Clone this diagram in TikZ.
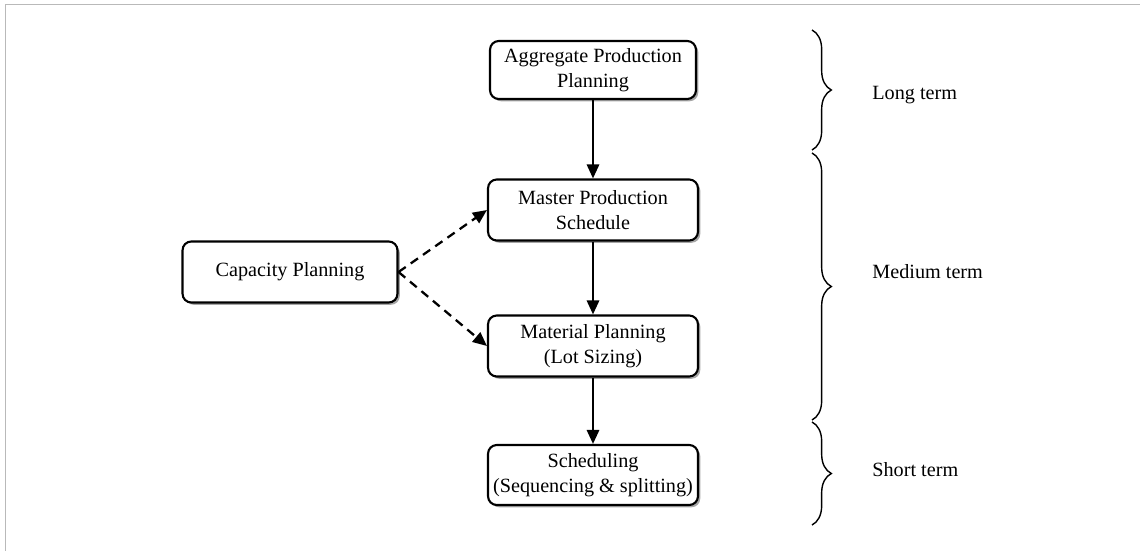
\documentclass[tikz,border=0pt]{standalone}
\usepackage{fontspec}
\setmainfont{Liberation Serif}
\usetikzlibrary{arrows.meta,decorations.pathreplacing,shadows}
\begin{document}
\begin{tikzpicture}[x=0.02cm,y=-0.02cm,
  box/.style={draw=black, line width=1.2pt, rounded corners=5pt, fill=white,
    align=center, font=\fontsize{11.5}{14.2}\selectfont, inner sep=0pt,
    drop shadow={shadow xshift=1.3pt, shadow yshift=-1.3pt, fill=gray!70, opacity=1}},
  flow/.style={line width=1.3pt, -{Triangle[length=8pt,width=7pt]}},
  dflow/.style={line width=1.3pt, dash pattern=on 5pt off 3.5pt, -{Triangle[length=8pt,width=7pt]}},
  brc/.style={line width=0.8pt, decorate, decoration={brace, amplitude=11pt}},
  lbl/.style={anchor=west, font=\fontsize{11.5}{14}\selectfont, inner sep=0pt}
]
\useasboundingbox (0,0) rectangle (1140,551);
% faint frame at top and left
\draw[gray!55, line width=0.5pt] (5,551) -- (5,4) -- (1140,4);

\node[box, minimum width=4.12cm, minimum height=1.16cm] (app) at (593,70) {Aggregate Production\\Planning};
\node[box, minimum width=4.2cm, minimum height=1.22cm] (mps) at (593,210) {Master Production\\Schedule};
\node[box, minimum width=4.2cm, minimum height=1.22cm] (mp) at (593,346) {Material Planning\\(Lot Sizing)};
\node[box, minimum width=4.2cm, minimum height=1.2cm] (sch) at (593,475) {Scheduling\\(Sequencing \& splitting)};
\node[box, minimum width=4.3cm, minimum height=1.22cm] (cap) at (290,272) {Capacity Planning};

\draw[flow] (app.south) -- (mps.north);
\draw[flow] (mps.south) -- (mp.north);
\draw[flow] (mp.south) -- (sch.north);
\draw[dflow] (cap.east) -- (mps.west);
\draw[dflow] (cap.east) -- (mp.west);

\coordinate (l1) at (812,30);  \coordinate (l2) at (812,150);
\coordinate (m1) at (812,153); \coordinate (m2) at (812,420);
\coordinate (s1) at (812,422); \coordinate (s2) at (812,525);
\draw[brc] (l1) -- (l2);
\draw[brc] (m1) -- (m2);
\draw[brc] (s1) -- (s2);
\node[lbl] (lt) at (872,95) {Long term};
\node[lbl] (mt) at (872,272) {Medium term};
\node[lbl] (st) at (872,470) {Short term};
\end{tikzpicture}
\end{document}
